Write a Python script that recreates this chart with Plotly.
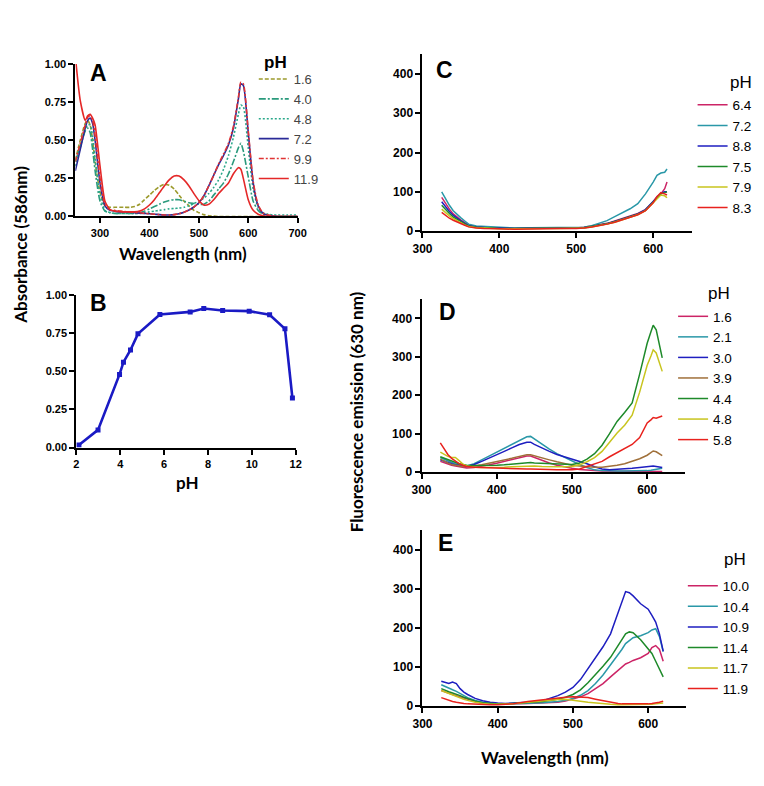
import plotly.graph_objects as go

W, H = 764, 786

# ---------------- Panel A: absorbance spectra ----------------
A_wl = [250, 260, 270, 275, 280, 285, 290, 300, 310, 320, 330, 340, 350, 360, 370, 380, 390, 400,
        410, 420, 430, 440, 450, 460, 470, 480, 490, 500, 510, 520, 530, 540, 550, 560, 570, 580,
        585, 590, 600, 610, 620, 630, 640, 650, 660, 680, 700]
A_ph = ["1.6", "4.0", "4.8", "7.2", "9.9", "11.9"]
A_16 = [0.37, 0.50, 0.61, 0.63, 0.60, 0.50, 0.36,
        0.16, 0.07, 0.06, 0.06, 0.06, 0.06, 0.06, 0.065, 0.08, 0.11, 0.14, 0.17, 0.195, 0.21, 0.205,
        0.18, 0.14, 0.10, 0.07, 0.04, 0.025, 0.012, 0.005, 0.002, 0, 0, 0, 0, 0,
        0, 0, 0, 0, 0, 0, 0, 0, 0, 0, 0]
A_40 = [0.36, 0.46, 0.56, 0.58, 0.55, 0.44, 0.30,
        0.10, 0.035, 0.025, 0.02, 0.02, 0.02, 0.02, 0.02, 0.025, 0.035, 0.05, 0.065, 0.08, 0.095, 0.105,
        0.11, 0.11, 0.10, 0.09, 0.085, 0.08, 0.08, 0.10, 0.14, 0.18, 0.22, 0.28, 0.36, 0.45,
        0.48, 0.43, 0.26, 0.10, 0.04, 0.015, 0.005, 0, 0, 0, 0]
A_48 = [0.33, 0.45, 0.57, 0.60, 0.60, 0.52, 0.38,
        0.14, 0.04, 0.025, 0.02, 0.02, 0.02, 0.02, 0.02, 0.02, 0.025, 0.03, 0.035, 0.04, 0.045, 0.05,
        0.052, 0.055, 0.06, 0.07, 0.085, 0.10, 0.12, 0.15, 0.19, 0.24, 0.31, 0.40, 0.52, 0.67,
        0.73, 0.72, 0.45, 0.18, 0.06, 0.025, 0.015, 0.01, 0.01, 0.01, 0.01]
A_72 = [0.30, 0.44, 0.58, 0.63, 0.645, 0.61, 0.50,
        0.22, 0.07, 0.04, 0.035, 0.03, 0.03, 0.028, 0.025, 0.022, 0.02, 0.018, 0.015, 0.012, 0.01, 0.01,
        0.012, 0.018, 0.028, 0.042, 0.062, 0.09, 0.135, 0.20, 0.27, 0.34, 0.40, 0.47, 0.58, 0.77,
        0.87, 0.86, 0.55, 0.22, 0.07, 0.02, 0.008, 0.003, 0, 0, 0]
A_99 = [0.36, 0.48, 0.60, 0.65, 0.66, 0.63, 0.53,
        0.25, 0.08, 0.045, 0.04, 0.035, 0.032, 0.03, 0.027, 0.024, 0.02, 0.018, 0.015, 0.012, 0.01, 0.01,
        0.012, 0.018, 0.028, 0.042, 0.062, 0.09, 0.135, 0.20, 0.27, 0.345, 0.41, 0.48, 0.59, 0.78,
        0.88, 0.87, 0.56, 0.23, 0.075, 0.022, 0.009, 0.003, 0, 0, 0]
A_119 = [1.05, 0.76, 0.63, 0.66, 0.67, 0.645, 0.60,
         0.33, 0.10, 0.045, 0.035, 0.032, 0.03, 0.03, 0.03, 0.035, 0.05, 0.075, 0.11, 0.155, 0.20, 0.24,
         0.265, 0.265, 0.24, 0.20, 0.15, 0.105, 0.075, 0.08, 0.11, 0.15, 0.185, 0.22, 0.28, 0.32,
         0.31, 0.25, 0.11, 0.04, 0.015, 0.005, 0, 0, 0, 0, 0]
A_series = [A_16, A_40, A_48, A_72, A_99, A_119]
A_colors = ["#9c9a2c", "#2a9a7c", "#2aa88a", "#2a2a98", "#e03434", "#e42828"]
A_dash = ["4px,2px", "7px,2px,2px,2px", "2px,2px", "solid", "5px,2px,2px,2px", "solid"]

# ---------------- Panel B: absorbance at 586 nm vs pH ----------------
B_ph = [2.12, 2.99, 3.97, 4.15, 4.47, 4.81, 5.81, 7.19, 7.81, 8.67, 9.88, 10.81, 11.51, 11.85]
B_abs = [0.017, 0.116, 0.48, 0.56, 0.64, 0.746, 0.873, 0.89, 0.912, 0.899, 0.895, 0.871, 0.779, 0.325]

# ---------------- Panel C: fluorescence, pH 6.4-8.8 ----------------
C_wl = [325, 330, 335, 340, 345, 350, 355, 360, 370, 380, 390, 400, 420, 440, 460, 480, 500, 510,
        520, 530, 540, 550, 560, 570, 580, 590, 600, 605, 610, 615, 618]
C_ph = ["6.4", "7.2", "8.8", "7.5", "7.9", "8.3"]
C_64 = [86, 70, 56, 44, 35, 28, 22, 15, 11, 10, 9, 8, 7, 8, 9, 8, 8, 10, 13, 16, 20, 26, 32, 38, 45, 55, 75, 88, 95, 108, 125]
C_72 = [100, 82, 66, 52, 42, 34, 26, 18, 13, 12, 11, 10, 8, 9, 9, 9, 9, 10, 14, 20, 27, 37, 47, 57, 70, 95, 125, 142, 148, 150, 158]
C_88 = [75, 62, 50, 40, 32, 26, 20, 14, 11, 9, 8, 8, 7, 8, 8, 8, 8, 9, 12, 15, 19, 25, 31, 37, 44, 55, 76, 88, 96, 100, 100]
C_75 = [66, 55, 45, 36, 30, 24, 18, 13, 10, 9, 8, 7, 7, 7, 8, 8, 8, 9, 12, 15, 19, 24, 30, 36, 43, 53, 74, 86, 95, 98, 100]
C_79 = [56, 47, 39, 32, 26, 21, 16, 12, 9, 8, 7, 6, 6, 7, 7, 7, 7, 8, 11, 14, 18, 23, 29, 35, 42, 52, 72, 84, 92, 90, 85]
C_83 = [48, 40, 33, 28, 23, 19, 15, 11, 8, 7, 7, 6, 5, 6, 7, 7, 7, 8, 11, 14, 18, 23, 29, 35, 42, 52, 72, 88, 98, 95, 92]
C_series = [C_64, C_72, C_88, C_75, C_79, C_83]
C_colors = ["#cc2466", "#2a98a8", "#1e1ec0", "#1e8a2a", "#c8c41e", "#e8221e"]

# ---------------- Panel D: fluorescence, pH 1.6-5.8 ----------------
D_wl = [325, 330, 335, 340, 345, 350, 355, 360, 370, 380, 390, 400, 410, 420, 430, 440, 445, 450,
        460, 470, 480, 490, 500, 510, 520, 530, 540, 550, 560, 570, 580, 590, 600, 605, 608, 612, 616, 620]
D_ph = ["1.6", "2.1", "3.0", "3.9", "4.4", "4.8", "5.8"]
D_16 = [28, 24, 21, 18, 16, 14, 12, 11, 12, 15, 19, 23, 28, 33, 38, 42, 42, 38, 31, 24, 18, 13, 10, 7,
        5, 4, 3, 3, 2, 2, 2, 2, 2, 2, 2, 2, 2, 2]
D_21 = [38, 33, 29, 25, 22, 19, 17, 16, 22, 32, 42, 52, 62, 72, 83, 92, 93, 86, 72, 60, 48, 38, 28, 20,
        12, 6, 4, 3, 3, 3, 3, 3, 4, 5, 6, 7, 8, 10]
D_30 = [32, 28, 25, 22, 19, 17, 16, 15, 20, 28, 36, 45, 54, 63, 72, 78, 78, 72, 62, 54, 46, 40, 32, 27,
        22, 14, 8, 6, 7, 8, 10, 12, 15, 16, 16, 15, 14, 12]
D_39 = [34, 28, 24, 20, 18, 16, 15, 15, 16, 19, 23, 27, 31, 36, 41, 45, 45, 42, 37, 32, 27, 22, 18, 16,
        14, 13, 13, 15, 18, 22, 28, 35, 44, 50, 55, 53, 48, 43]
D_44 = [40, 36, 32, 28, 25, 22, 20, 18, 17, 17, 17, 18, 19, 21, 23, 25, 25, 24, 23, 22, 21, 20, 20, 24,
        34, 48, 70, 100, 132, 155, 180, 255, 335, 365, 382, 370, 330, 297]
D_48 = [52, 46, 41, 38, 38, 30, 21, 16, 13, 12, 12, 12, 13, 14, 15, 16, 16, 16, 15, 14, 14, 14, 15, 19,
        27, 38, 54, 78, 102, 122, 148, 208, 278, 302, 318, 310, 285, 262]
D_58 = [76, 60, 46, 36, 28, 22, 18, 15, 13, 12, 11, 10, 10, 9, 9, 8, 8, 8, 7, 7, 6, 6, 6, 8,
        14, 20, 28, 40, 50, 60, 72, 90, 128, 136, 142, 140, 143, 146]
D_series = [D_16, D_21, D_30, D_39, D_44, D_48, D_58]
D_colors = ["#cc2466", "#2a98a8", "#1e1ec0", "#a0703a", "#1e8a2a", "#c8c41e", "#e8221e"]

# ---------------- Panel E: fluorescence, pH 10.0-11.9 ----------------
E_wl = [325, 330, 335, 340, 345, 350, 355, 360, 370, 380, 390, 400, 410, 420, 440, 460, 480, 490, 500,
        510, 520, 530, 540, 550, 560, 565, 570, 575, 580, 590, 600, 605, 610, 615, 620]
E_ph = ["10.0", "10.4", "10.9", "11.4", "11.7", "11.9"]
E_100 = [40, 36, 33, 30, 27, 24, 20, 17, 11, 7, 5, 5, 5, 6, 7, 8, 10, 13, 18, 24, 32, 45, 58, 75, 92,
         100, 108, 112, 117, 124, 135, 150, 155, 145, 115]
E_104 = [55, 50, 46, 42, 38, 32, 27, 22, 15, 10, 7, 6, 5, 6, 7, 9, 12, 15, 20, 28, 40, 58, 80, 105, 130,
         145, 160, 168, 175, 180, 188, 195, 198, 178, 140]
E_109 = [64, 60, 58, 62, 58, 45, 36, 30, 20, 14, 10, 8, 7, 8, 10, 14, 27, 36, 48, 68, 95, 123, 152, 185, 240,
         270, 293, 290, 282, 262, 248, 232, 215, 185, 140]
E_114 = [45, 40, 37, 34, 31, 27, 23, 19, 13, 9, 7, 6, 6, 7, 9, 12, 18, 23, 30, 42, 60, 80, 102, 125, 155,
         170, 185, 190, 188, 170, 148, 135, 115, 95, 75]
E_117 = [40, 36, 33, 30, 26, 22, 18, 15, 10, 7, 5, 5, 5, 6, 10, 14, 17, 18, 16, 13, 10, 8, 6, 5, 4,
         4, 4, 4, 4, 4, 5, 5, 6, 7, 8]
E_119 = [22, 18, 15, 12, 10, 8, 7, 6, 5, 4, 4, 4, 5, 6, 12, 17, 21, 23, 24, 23, 22, 18, 14, 10, 7,
         6, 6, 5, 5, 5, 6, 7, 8, 10, 13]
E_series = [E_100, E_104, E_109, E_114, E_117, E_119]
E_colors = ["#cc2466", "#2a98a8", "#1e1ec0", "#1e8a2a", "#c8c41e", "#e8221e"]

for xs, group in [(A_wl, A_series), (C_wl, C_series), (D_wl, D_series), (E_wl, E_series)]:
    for s in group:
        assert len(s) == len(xs), (len(s), len(xs))
assert len(B_ph) == len(B_abs)


def px_x(p):
    return p / W


def px_y(p):
    return 1 - p / H


fig = go.Figure()

# Panel A traces
for name, ys, col, dash in zip(A_ph, A_series, A_colors, A_dash):
    fig.add_trace(go.Scatter(x=A_wl, y=ys, mode="lines", name=name, xaxis="x", yaxis="y",
                             line=dict(color=col, width=1.6, dash=dash, shape="spline", smoothing=0.6),
                             legend="legend"))

# Panel B trace
fig.add_trace(go.Scatter(x=B_ph, y=B_abs, mode="lines+markers", xaxis="x2", yaxis="y2",
                         line=dict(color="#1a1ac4", width=2.6),
                         marker=dict(symbol="square", size=5, color="#1a1ac4"),
                         showlegend=False))

# Panels C, D, E
for names, series, colors, ax, leg, xs in [
        (C_ph, C_series, C_colors, "3", "legend2", C_wl),
        (D_ph, D_series, D_colors, "4", "legend3", D_wl),
        (E_ph, E_series, E_colors, "5", "legend4", E_wl)]:
    for name, ys, col in zip(names, series, colors):
        fig.add_trace(go.Scatter(x=xs, y=ys, mode="lines", name=name, xaxis="x" + ax, yaxis="y" + ax,
                                 line=dict(color=col, width=1.5), legend=leg))

tick_font_ab = dict(family="Arial", size=11, color="black", weight="bold")
tick_font_cde = dict(family="Arial", size=12, color="black", weight="bold")


def xaxis_cfg(dom, rng, tickvals, anchor, font):
    return dict(domain=[px_x(dom[0]), px_x(dom[1])], range=rng, tickvals=tickvals, anchor=anchor,
                showline=True, linecolor="black", linewidth=2, ticks="outside", ticklen=5,
                tickwidth=2, tickcolor="black", showgrid=False, zeroline=False, tickfont=font)


def yaxis_cfg(dom, rng, tickvals, anchor, font, fmt=None):
    d = dict(domain=[px_y(dom[1]), px_y(dom[0])], range=rng, tickvals=tickvals, anchor=anchor,
             showline=True, linecolor="black", linewidth=2, ticks="outside", ticklen=5,
             tickwidth=2, tickcolor="black", showgrid=False, zeroline=False, tickfont=font)
    if fmt:
        d["tickformat"] = fmt
    return d


fig.update_layout(
    width=W, height=H, margin=dict(l=0, r=0, t=0, b=0),
    paper_bgcolor="white", plot_bgcolor="white",
    xaxis=xaxis_cfg((67, 295), [250, 700], [300, 400, 500, 600, 700], "y", tick_font_ab),
    yaxis=yaxis_cfg((59, 214), [0, 1], [0, 0.25, 0.5, 0.75, 1.0], "x", tick_font_ab, ".2f"),
    xaxis2=xaxis_cfg((68, 293), [2, 12], [2, 4, 6, 8, 10, 12], "y2", tick_font_ab),
    yaxis2=yaxis_cfg((294, 449), [0, 1], [0, 0.25, 0.5, 0.75, 1.0], "x2", tick_font_ab, ".2f"),
    xaxis3=xaxis_cfg((423, 699), [300, 650], [300, 400, 500, 600], "y3", tick_font_cde),
    yaxis3=yaxis_cfg((49, 229), [0, 450], [0, 100, 200, 300, 400], "x3", tick_font_cde),
    xaxis4=xaxis_cfg((422, 692), [300, 650], [300, 400, 500, 600], "y4", tick_font_cde),
    yaxis4=yaxis_cfg((298, 474), [0, 450], [0, 100, 200, 300, 400], "x4", tick_font_cde),
    xaxis5=xaxis_cfg((423, 693), [300, 650], [300, 400, 500, 600], "y5", tick_font_cde),
    yaxis5=yaxis_cfg((533, 712), [0, 450], [0, 100, 200, 300, 400], "x5", tick_font_cde),
    legend=dict(x=px_x(250), y=px_y(59), xanchor="left", yanchor="top", bgcolor="rgba(0,0,0,0)",
                font=dict(family="Arial", size=13, color="#444")),
    legend2=dict(x=px_x(700), y=px_y(85), xanchor="left", yanchor="top", bgcolor="rgba(0,0,0,0)",
                 font=dict(family="Arial", size=13.5, color="black")),
    legend3=dict(x=px_x(680), y=px_y(300), xanchor="left", yanchor="top", bgcolor="rgba(0,0,0,0)",
                 font=dict(family="Arial", size=13.5, color="black")),
    legend4=dict(x=px_x(690), y=px_y(574), xanchor="left", yanchor="top", bgcolor="rgba(0,0,0,0)",
                 font=dict(family="Arial", size=13.5, color="black")),
)


def ann(text, x, y, size, bold=True, angle=0, family="Lato", color="black"):
    fig.add_annotation(text=f"<b>{text}</b>" if bold else text, x=px_x(x), y=px_y(y),
                       xref="paper", yref="paper", showarrow=False, textangle=angle,
                       xanchor="center", yanchor="middle",
                       font=dict(family=family, size=size, color=color))


# panel letters
for letter, (x, y) in zip("ABCDE", [(91, 68), (91, 302), (446, 65), (449, 311), (447, 546)]):
    ann(letter, x, y, 23, family="Arial")

# legend headers
ann("pH", 272, 57, 17, family="Arial")
ann("pH", 750, 78, 17, bold=False, family="Arial")
ann("pH", 727, 292, 17, bold=False, family="Arial")
ann("pH", 743, 563, 17, bold=False, family="Arial")

# axis titles
ann("Absorbance (586nm)", 11, 243, 17, angle=-90)
ann("Wavelength (nm)", 177, 252, 17)
ann("pH", 182, 485, 17)
ann("Fluorescence emission (630 nm)", 355, 413, 17, angle=-90)
ann("Wavelength (nm)", 549, 764, 17)

fig.write_html("out.html", config={"displayModeBar": False},
               post_script="document.body.style.margin='0';document.body.style.overflow='hidden';")
